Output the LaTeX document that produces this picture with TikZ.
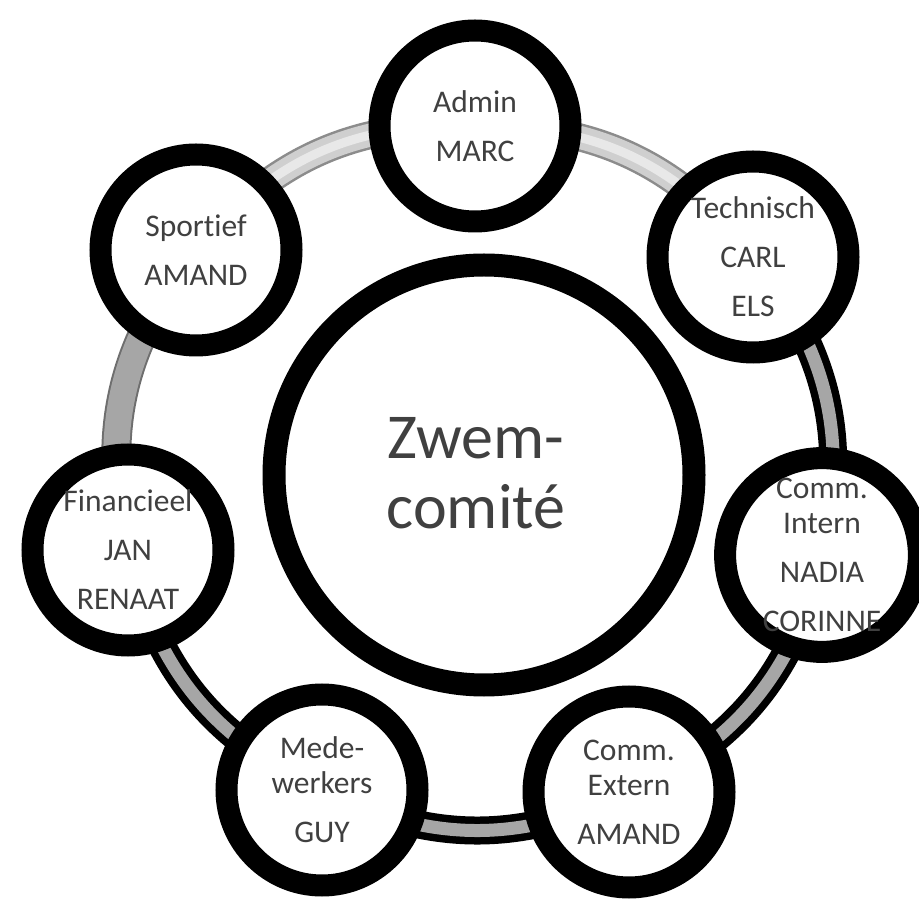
\documentclass[tikz,border=0pt]{standalone}
\usepackage{fontspec}
\setmainfont{Carlito}[Ligatures=NoCommon]
\usetikzlibrary{backgrounds}
\definecolor{txt}{HTML}{404040}
\definecolor{bandgrey}{HTML}{A6A6A6}
\definecolor{midedge}{HTML}{6E6E6E}
\definecolor{lbedge}{HTML}{8C8C8C}
\definecolor{lbfill}{HTML}{CFCFCF}
\definecolor{lbhi}{HTML}{E8E8E8}
\tikzset{
  member/.style={circle, draw=black, fill=white, line width=22pt,
    minimum size=191pt, inner sep=0pt, text=txt, align=center,
    font=\fontsize{31.5}{35}\selectfont},
  hub/.style={circle, draw=black, fill=white, line width=23pt,
    minimum size=420pt, inner sep=0pt},
  hubtext/.style={text=txt, align=center, inner sep=0pt,
    font=\fontsize{64}{70}\selectfont},
  darkband/.style={line width=28pt, draw=black,
    postaction={draw=bandgrey, line width=13pt}},
  midband/.style={line width=30pt, draw=midedge,
    postaction={draw=bandgrey, line width=26pt}},
  lightband/.style={line width=28pt, draw=lbedge,
    postaction={draw=lbfill, line width=23pt},
    postaction={draw=lbhi, line width=9pt}},
  arc/.style={bend left=26}
}
\begin{document}
\begin{tikzpicture}[x=1pt,y=1pt]
\useasboundingbox (0,0) rectangle (919,906);

\node[hub] (C) at (484,431) {};
\node[hubtext] (Ct) at (476,433) {Zwem-\\comité};

\node[member] (A)  at (475,780) {Admin\\[14pt]MARC};
\node[member] (T)  at (753,649) {Technisch\\[14pt]CARL\\[14pt]ELS};
\node[member] (CI) at (822,351) {Comm.\\Intern\\[14pt]NADIA\\[14pt]CORINNE};
\node[member] (CE) at (629,114) {Comm.\\Extern\\[14pt]AMAND};
\node[member] (M)  at (322,116) {Mede-\\werkers\\[14pt]GUY};
\node[member] (F)  at (128,356) {Financieel\\[14pt]JAN\\[14pt]RENAAT};
\node[member] (S)  at (196,656) {Sportief\\[14pt]AMAND};

\begin{scope}[on background layer]
  \fill[white] (0,0) rectangle (919,906);
  \draw[lightband] (S.center) to[arc] (A.center);
  \draw[lightband] (A.center) to[arc] (T.center);
  \draw[darkband] (T.center) to[arc] (CI.center);
  \draw[darkband] (CI.center) to[arc] (CE.center);
  \draw[darkband] (CE.center) to[arc] (M.center);
  \draw[darkband] (M.center) to[arc] (F.center);
  \draw[midband] (F.center) to[arc] (S.center);
\end{scope}
\end{tikzpicture}
\end{document}
